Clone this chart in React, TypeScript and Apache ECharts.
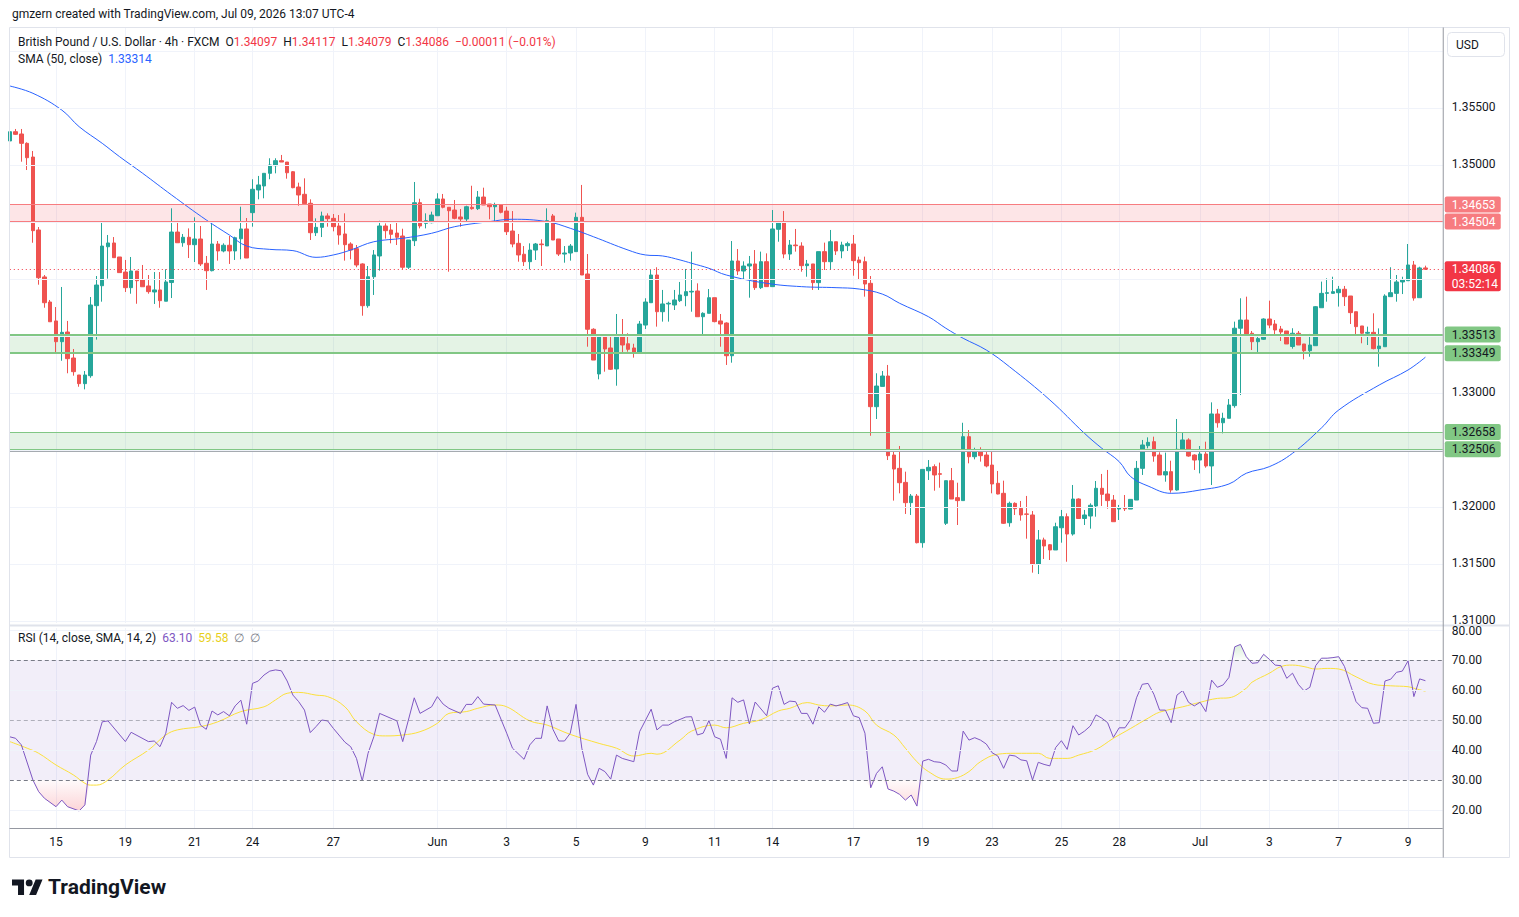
import React, { useEffect, useRef } from 'react';
import * as echarts from 'echarts';

// ---- instrument / header ----
const WATERMARK = 'gmzern created with TradingView.com, Jul 09, 2026 13:07 UTC-4';
const SYMBOL_TITLE = 'British Pound / U.S. Dollar · 4h · FXCM';
const SMA_TITLE = 'SMA (50, close)';
const RSI_TITLE = 'RSI (14, close, SMA, 14, 2)';
const COUNTDOWN = '03:52:14';

// ---- 4h bars, first bar Wed 2026-05-13 17:00 (UTC-4): [open, high, low, close] ----
const bars: [number, number, number, number][] = [
  [1.35211, 1.35313, 1.35152, 1.35292], [1.35292, 1.35316, 1.35263, 1.35269], [1.35272, 1.35316, 1.35029, 1.35190],
  [1.35190, 1.35199, 1.34956, 1.35064], [1.35070, 1.35123, 1.34318, 1.34424], [1.34430, 1.34456, 1.33950, 1.34011],
  [1.34018, 1.34035, 1.33748, 1.33792], [1.33798, 1.33816, 1.33625, 1.33625], [1.33632, 1.33754, 1.33354, 1.33450],
  [1.33450, 1.33930, 1.33283, 1.33532], [1.33535, 1.33632, 1.33173, 1.33301], [1.33307, 1.33386, 1.33152, 1.33187],
  [1.33158, 1.33158, 1.33055, 1.33082], [1.33082, 1.33193, 1.33032, 1.33158], [1.33152, 1.33842, 1.33134, 1.33772],
  [1.33766, 1.34026, 1.33468, 1.33947], [1.33941, 1.34494, 1.33801, 1.34289], [1.34283, 1.34386, 1.34003, 1.34316],
  [1.34316, 1.34368, 1.34187, 1.34187], [1.34193, 1.34193, 1.34056, 1.34056], [1.34061, 1.34167, 1.33886, 1.33924],
  [1.33924, 1.34193, 1.33871, 1.34070], [1.34070, 1.34070, 1.33783, 1.33985], [1.33991, 1.34123, 1.33932, 1.33932],
  [1.33939, 1.34035, 1.33871, 1.33889], [1.33886, 1.34061, 1.33781, 1.33904], [1.33904, 1.34061, 1.33748, 1.33810],
  [1.33805, 1.34085, 1.33805, 1.33974], [1.33969, 1.34620, 1.33833, 1.34412], [1.34412, 1.34509, 1.34318, 1.34318],
  [1.34318, 1.34395, 1.34283, 1.34366], [1.34366, 1.34444, 1.34184, 1.34301], [1.34301, 1.34541, 1.34149, 1.34351],
  [1.34351, 1.34465, 1.34114, 1.34132], [1.34138, 1.34202, 1.33904, 1.34073], [1.34073, 1.34491, 1.34067, 1.34307],
  [1.34307, 1.34333, 1.34161, 1.34246], [1.34246, 1.34313, 1.34234, 1.34296], [1.34296, 1.34377, 1.34132, 1.34246],
  [1.34246, 1.34371, 1.34167, 1.34362], [1.34353, 1.34634, 1.34173, 1.34439], [1.34439, 1.34535, 1.34184, 1.34184],
  [1.34582, 1.34875, 1.34459, 1.34787], [1.34781, 1.34904, 1.34699, 1.34825], [1.34816, 1.34927, 1.34708, 1.34927],
  [1.34927, 1.35059, 1.34875, 1.35000], [1.34994, 1.35059, 1.34927, 1.35038], [1.35038, 1.35088, 1.35026, 1.35026],
  [1.35026, 1.35026, 1.34880, 1.34932], [1.34941, 1.34947, 1.34796, 1.34801], [1.34807, 1.34845, 1.34643, 1.34737],
  [1.34743, 1.34883, 1.34661, 1.34661], [1.34664, 1.34699, 1.34342, 1.34406], [1.34406, 1.34532, 1.34377, 1.34453],
  [1.34453, 1.34591, 1.34368, 1.34553], [1.34553, 1.34576, 1.34459, 1.34529], [1.34532, 1.34570, 1.34418, 1.34459],
  [1.34465, 1.34561, 1.34301, 1.34386], [1.34395, 1.34576, 1.34161, 1.34301], [1.34307, 1.34322, 1.34173, 1.34254],
  [1.34266, 1.34298, 1.34103, 1.34123], [1.34132, 1.34138, 1.33678, 1.33766], [1.33766, 1.34114, 1.33748, 1.34020],
  [1.34020, 1.34254, 1.33860, 1.34211], [1.34202, 1.34511, 1.34073, 1.34465], [1.34465, 1.34488, 1.34354, 1.34424],
  [1.34430, 1.34482, 1.34313, 1.34392], [1.34403, 1.34503, 1.34298, 1.34366], [1.34377, 1.34441, 1.34085, 1.34103],
  [1.34103, 1.34342, 1.34088, 1.34342], [1.34336, 1.34851, 1.34289, 1.34669], [1.34669, 1.34704, 1.34444, 1.34465],
  [1.34488, 1.34576, 1.34444, 1.34511], [1.34494, 1.34591, 1.34488, 1.34561], [1.34555, 1.34752, 1.34555, 1.34702],
  [1.34702, 1.34746, 1.34620, 1.34629], [1.34629, 1.34629, 1.34064, 1.34599], [1.34605, 1.34693, 1.34524, 1.34532],
  [1.34544, 1.34614, 1.34459, 1.34526], [1.34526, 1.34643, 1.34503, 1.34634], [1.34629, 1.34818, 1.34608, 1.34617],
  [1.34617, 1.34772, 1.34605, 1.34719], [1.34719, 1.34801, 1.34649, 1.34649], [1.34658, 1.34658, 1.34524, 1.34634],
  [1.34634, 1.34669, 1.34503, 1.34649], [1.34649, 1.34655, 1.34576, 1.34585], [1.34596, 1.34634, 1.34386, 1.34415],
  [1.34421, 1.34596, 1.34278, 1.34307], [1.34313, 1.34395, 1.34152, 1.34211], [1.34217, 1.34289, 1.34114, 1.34152],
  [1.34152, 1.34313, 1.34085, 1.34254], [1.34254, 1.34316, 1.34167, 1.34307], [1.34307, 1.34348, 1.34114, 1.34301],
  [1.34290, 1.34620, 1.34290, 1.34512], [1.34553, 1.34570, 1.34342, 1.34342], [1.34351, 1.34351, 1.34202, 1.34219],
  [1.34219, 1.34289, 1.34143, 1.34228], [1.34228, 1.34307, 1.34161, 1.34289], [1.34240, 1.34582, 1.34240, 1.34541],
  [1.34541, 1.34825, 1.34035, 1.34035], [1.34044, 1.34219, 1.33406, 1.33559], [1.33559, 1.33568, 1.33289, 1.33289],
  [1.33167, 1.33494, 1.33120, 1.33494], [1.33494, 1.33503, 1.33187, 1.33386], [1.33395, 1.33494, 1.33202, 1.33208],
  [1.33211, 1.33693, 1.33064, 1.33503], [1.33503, 1.33649, 1.33348, 1.33421], [1.33432, 1.33524, 1.33362, 1.33383],
  [1.33395, 1.33432, 1.33310, 1.33354], [1.33354, 1.33632, 1.33354, 1.33605], [1.33596, 1.33831, 1.33561, 1.33798],
  [1.33792, 1.34079, 1.33792, 1.34035], [1.34035, 1.34103, 1.33582, 1.33713], [1.33713, 1.33904, 1.33626, 1.33781],
  [1.33781, 1.33801, 1.33626, 1.33787], [1.33772, 1.33904, 1.33728, 1.33816], [1.33810, 1.33974, 1.33798, 1.33860],
  [1.33854, 1.34088, 1.33761, 1.33889], [1.33886, 1.34240, 1.33713, 1.33892], [1.33895, 1.33962, 1.33669, 1.33669],
  [1.33669, 1.33708, 1.33503, 1.33699], [1.33699, 1.33912, 1.33699, 1.33836], [1.33836, 1.33836, 1.33620, 1.33626],
  [1.33632, 1.33693, 1.33406, 1.33605], [1.33614, 1.33620, 1.33246, 1.33327], [1.33327, 1.34333, 1.33266, 1.34158],
  [1.34158, 1.34263, 1.34035, 1.34070], [1.34070, 1.34155, 1.33991, 1.34114], [1.34114, 1.34202, 1.33836, 1.34132],
  [1.34132, 1.34254, 1.33904, 1.33924], [1.33924, 1.34240, 1.33912, 1.34152], [1.34152, 1.34225, 1.33933, 1.33933],
  [1.33933, 1.34605, 1.33933, 1.34439], [1.34436, 1.34509, 1.34327, 1.34503], [1.34503, 1.34596, 1.34182, 1.34219],
  [1.34219, 1.34342, 1.34167, 1.34298], [1.34298, 1.34439, 1.34240, 1.34292], [1.34289, 1.34322, 1.34064, 1.34117],
  [1.34117, 1.34167, 1.34020, 1.34132], [1.34132, 1.34132, 1.33904, 1.33968], [1.33968, 1.34240, 1.33904, 1.34240],
  [1.34240, 1.34319, 1.34079, 1.34152], [1.34152, 1.34430, 1.34079, 1.34327], [1.34327, 1.34327, 1.34211, 1.34246],
  [1.34246, 1.34327, 1.34182, 1.34298], [1.34292, 1.34327, 1.34246, 1.34310], [1.34307, 1.34386, 1.34029, 1.34161],
  [1.34167, 1.34196, 1.33991, 1.34143], [1.34152, 1.34196, 1.33845, 1.33956], [1.33962, 1.34026, 1.32625, 1.32880],
  [1.32880, 1.33173, 1.32772, 1.33061], [1.33058, 1.33193, 1.33058, 1.33149], [1.33149, 1.33246, 1.32412, 1.32450],
  [1.32456, 1.32500, 1.32056, 1.32333], [1.32339, 1.32535, 1.32120, 1.32213], [1.32216, 1.32310, 1.31939, 1.32038],
  [1.32038, 1.32114, 1.31930, 1.32096], [1.32096, 1.32114, 1.31681, 1.31687], [1.31687, 1.32330, 1.31643, 1.32330],
  [1.32318, 1.32412, 1.32237, 1.32348], [1.32354, 1.32374, 1.32143, 1.32281], [1.32292, 1.32389, 1.32169, 1.32287],
  [1.31857, 1.32231, 1.31842, 1.32231], [1.32231, 1.32342, 1.32070, 1.32070], [1.32082, 1.32213, 1.31842, 1.32056],
  [1.32056, 1.32739, 1.32056, 1.32617], [1.32617, 1.32675, 1.32383, 1.32441], [1.32441, 1.32520, 1.32418, 1.32485],
  [1.32485, 1.32524, 1.32398, 1.32450], [1.32456, 1.32500, 1.32348, 1.32360], [1.32368, 1.32500, 1.32120, 1.32202],
  [1.32208, 1.32316, 1.32111, 1.32114], [1.32120, 1.32231, 1.31851, 1.31857], [1.31862, 1.32047, 1.31827, 1.32032],
  [1.32032, 1.32041, 1.31930, 1.31985], [1.31988, 1.32053, 1.31880, 1.31930], [1.31939, 1.32097, 1.31722, 1.31936],
  [1.31930, 1.31965, 1.31424, 1.31500], [1.31500, 1.31798, 1.31412, 1.31711], [1.31711, 1.31731, 1.31544, 1.31658],
  [1.31669, 1.31675, 1.31535, 1.31623], [1.31623, 1.31862, 1.31623, 1.31827], [1.31818, 1.31974, 1.31687, 1.31915],
  [1.31915, 1.31944, 1.31520, 1.31763], [1.31763, 1.32193, 1.31749, 1.32070], [1.32070, 1.32076, 1.31899, 1.31899],
  [1.31899, 1.31974, 1.31842, 1.31930], [1.31921, 1.32032, 1.31810, 1.32015], [1.32009, 1.32228, 1.31915, 1.32164],
  [1.32164, 1.32290, 1.32009, 1.32111], [1.32114, 1.32325, 1.31985, 1.32056], [1.32061, 1.32105, 1.31871, 1.31871],
  [1.31982, 1.32018, 1.31886, 1.31994], [1.31994, 1.32105, 1.31965, 1.31985], [1.31982, 1.32067, 1.31982, 1.32067],
  [1.32061, 1.32404, 1.32061, 1.32339], [1.32339, 1.32588, 1.32281, 1.32544], [1.32538, 1.32611, 1.32515, 1.32567],
  [1.32573, 1.32617, 1.32397, 1.32447], [1.32456, 1.32480, 1.32281, 1.32281], [1.32281, 1.32477, 1.32222, 1.32310],
  [1.32310, 1.32406, 1.32126, 1.32149], [1.32149, 1.32772, 1.32143, 1.32506], [1.32506, 1.32655, 1.32506, 1.32588],
  [1.32588, 1.32603, 1.32441, 1.32447], [1.32456, 1.32462, 1.32325, 1.32412], [1.32412, 1.32535, 1.32295, 1.32465],
  [1.32465, 1.32573, 1.32345, 1.32360], [1.32360, 1.32918, 1.32193, 1.32816], [1.32816, 1.32860, 1.32696, 1.32739],
  [1.32739, 1.32827, 1.32646, 1.32778], [1.32778, 1.32947, 1.32778, 1.32895], [1.32889, 1.33626, 1.32871, 1.33568],
  [1.33568, 1.33831, 1.32982, 1.33640], [1.33640, 1.33845, 1.33494, 1.33518], [1.33524, 1.33544, 1.33377, 1.33450],
  [1.33450, 1.33494, 1.33348, 1.33477], [1.33471, 1.33655, 1.33465, 1.33649], [1.33649, 1.33810, 1.33568, 1.33596],
  [1.33605, 1.33640, 1.33494, 1.33553], [1.33561, 1.33588, 1.33456, 1.33535], [1.33544, 1.33544, 1.33430, 1.33430],
  [1.33408, 1.33568, 1.33389, 1.33524], [1.33524, 1.33544, 1.33421, 1.33421], [1.33430, 1.33430, 1.33295, 1.33371],
  [1.33371, 1.33518, 1.33318, 1.33421], [1.33415, 1.33763, 1.33415, 1.33757], [1.33748, 1.33977, 1.33748, 1.33874],
  [1.33874, 1.34006, 1.33801, 1.33880], [1.33874, 1.34020, 1.33874, 1.33889], [1.33880, 1.33939, 1.33758, 1.33910],
  [1.33910, 1.33939, 1.33763, 1.33845], [1.33851, 1.33851, 1.33605, 1.33705], [1.33713, 1.33713, 1.33494, 1.33582],
  [1.33588, 1.33588, 1.33436, 1.33524], [1.33524, 1.33582, 1.33421, 1.33532], [1.33532, 1.33699, 1.33383, 1.33389],
  [1.33389, 1.33567, 1.33231, 1.33412], [1.33406, 1.33866, 1.33406, 1.33851], [1.33845, 1.34103, 1.33845, 1.33880],
  [1.33874, 1.34035, 1.33801, 1.33974], [1.33974, 1.34020, 1.33868, 1.33991], [1.33985, 1.34307, 1.33985, 1.34123],
  [1.34123, 1.34158, 1.33810, 1.33833], [1.33836, 1.34108, 1.33836, 1.34097], [1.34097, 1.34117, 1.34079, 1.34086],
];

// SMA(50, close), sampled along the line: [bar index, value]
const smaPoints: [number, number][] = [
  [0, 1.35693], [4, 1.35629], [9, 1.35482], [12, 1.35336], [16, 1.35190], [19, 1.35073], [23, 1.34927],
  [28, 1.34737], [34, 1.34518], [38, 1.34386], [41, 1.34289], [45, 1.34260], [49, 1.34249], [53, 1.34190],
  [56, 1.34211], [59, 1.34254], [63, 1.34327], [68, 1.34357], [73, 1.34401], [77, 1.34459], [83, 1.34503],
  [87, 1.34524], [93, 1.34503], [97, 1.34445], [101, 1.34371], [107, 1.34254], [110, 1.34211], [113, 1.34202],
  [116, 1.34167], [118, 1.34138], [121, 1.34094], [124, 1.34035], [131, 1.33962], [137, 1.33933], [143, 1.33924],
  [147, 1.33912], [151, 1.33868], [154, 1.33787], [159, 1.33669], [162, 1.33568], [165, 1.33480], [169, 1.33377],
  [173, 1.33231], [180, 1.32939], [186, 1.32646], [189, 1.32515], [192, 1.32398], [194, 1.32266], [197, 1.32184],
  [201, 1.32120], [206, 1.32149], [211, 1.32202], [214, 1.32296], [218, 1.32354], [222, 1.32471], [227, 1.32693],
  [230, 1.32851], [237, 1.33070], [242, 1.33202], [245, 1.33314],
];

// RSI(14) vertices: [bar index, value]
const rsiPoints: [number, number][] = [
  [0, 44.4], [1, 43.9], [2, 41.7], [4, 30], [5, 26.1], [6, 23.9], [8, 21.1], [9, 23.3], [10, 21.1], [12, 19.7],
  [13, 21.7], [14, 38.3], [15, 42.8], [16, 49.4], [17, 49.7], [20, 42.8], [21, 45.9], [24, 42.8], [25, 43], [26, 41.1],
  [27, 45.6], [28, 55.9], [29, 53.9], [30, 54.8], [31, 53.2], [32, 54.3], [33, 48.3], [34, 46.9], [35, 53], [36, 51.7],
  [37, 52.8], [38, 51.4], [39, 54.7], [40, 56.6], [41, 48.6], [42, 62.2], [43, 63], [44, 65], [45, 66.3], [46, 66.7],
  [47, 66.4], [48, 63], [49, 58.3], [50, 56.1], [51, 53.3], [52, 45.8], [53, 47.8], [54, 50], [55, 49.7], [56, 47.2],
  [58, 42.6], [59, 41.1], [60, 37.2], [61, 29.7], [62, 38.9], [63, 44.4], [64, 52.2], [67, 49.7], [68, 42.8], [70, 57.4],
  [71, 52.2], [73, 54.4], [74, 57.8], [75, 55.3], [76, 53.9], [78, 52.2], [79, 55.2], [80, 55.2], [81, 57.8], [82, 55.3],
  [84, 55], [86, 45.6], [87, 40.6], [89, 36.9], [90, 41.7], [91, 43.9], [92, 43.9], [93, 54.7], [94, 46.9], [95, 43],
  [96, 43], [97, 45.6], [98, 55.2], [99, 40.6], [100, 31.9], [101, 28.3], [102, 33.9], [103, 32.8], [104, 30.3], [105, 38.3],
  [106, 37.2], [108, 36.1], [109, 46.1], [111, 53.6], [112, 46.7], [113, 48.3], [114, 48.3], [115, 49.4], [117, 51], [118, 51.1],
  [119, 45], [120, 45.6], [121, 49.8], [122, 44.4], [123, 43.6], [124, 37.2], [125, 57.4], [126, 55.9], [127, 56.7], [128, 48.7],
  [129, 56], [131, 51.4], [132, 60.6], [133, 61.4], [134, 55.2], [135, 56.3], [136, 56.1], [137, 52.2], [138, 52.2], [139, 48.6],
  [140, 54.4], [141, 52.6], [142, 55.3], [143, 54.7], [144, 55.2], [145, 55.8], [146, 51.4], [147, 50.8], [148, 45.6], [149, 27.4],
  [150, 32.2], [151, 34.4], [152, 27], [153, 26.3], [154, 25.2], [155, 23.3], [156, 25], [157, 21.3], [158, 36.3], [159, 36.9],
  [160, 36.1], [161, 35.9], [162, 35], [163, 33], [164, 33], [165, 46.3], [166, 43.3], [167, 44.1], [168, 43.3], [169, 42],
  [170, 39.1], [171, 38], [172, 33.9], [173, 38.3], [174, 38], [175, 36.7], [176, 36.4], [177, 30], [178, 35.9], [179, 35.2],
  [180, 34.7], [181, 40.8], [182, 43.1], [183, 40.2], [184, 48.1], [185, 45], [186, 46.3], [187, 48], [188, 51.7], [189, 50.6],
  [190, 49.1], [191, 44.2], [192, 47.4], [193, 47.4], [194, 50.2], [195, 57.4], [196, 61.9], [197, 62.2], [198, 58.6], [199, 53.3],
  [200, 53.3], [201, 49.1], [202, 58.3], [203, 59.8], [204, 55.9], [205, 54.7], [206, 55.9], [207, 52.8], [208, 63.3], [209, 60.9],
  [210, 61.7], [211, 64.2], [212, 74.4], [213, 75.2], [214, 71.1], [215, 68.9], [216, 69.1], [217, 71.9], [218, 70.2], [219, 68.3],
  [220, 68.1], [221, 63.9], [222, 65.6], [223, 61.9], [224, 59.7], [225, 60.9], [226, 68.1], [227, 70.6], [228, 70.6], [229, 70.8],
  [230, 71.1], [231, 67.8], [232, 61.9], [233, 56.1], [234, 54.1], [235, 53.9], [236, 48.9], [237, 49.1], [238, 63], [239, 63.6],
  [240, 65.9], [241, 66.3], [242, 69.7], [243, 57.8], [244, 63.7], [245, 63.1],
];

// RSI-based SMA(14), sampled along the line
const rsiMaPoints: [number, number][] = [
  [0, 42.8], [3, 40.6], [5, 38.9], [8, 35], [11, 31.7], [13, 28.9], [14, 28.3], [15, 28.3], [17, 30], [20, 35],
  [24, 40], [27, 45], [29, 46.7], [33, 47.8], [36, 49.4], [40, 52.8], [44, 54.4], [46, 56.7], [48, 58.9], [50, 59.2],
  [53, 58.3], [55, 57.8], [58, 54.4], [60, 49.4], [63, 45.2], [65, 44.7], [68, 45], [71, 46.1], [74, 48.9], [76, 52.2],
  [79, 52.8], [81, 53.9], [84, 55], [86, 54.4], [90, 49.7], [93, 48.3], [97, 45.2], [102, 42.2], [105, 40.6], [108, 38],
  [111, 38.9], [112, 38.6], [116, 43.3], [118, 46.3], [122, 48.3], [124, 47.4], [127, 48.9], [130, 50.1], [133, 53], [135, 53.9],
  [138, 55.8], [140, 55], [142, 54.7], [145, 55], [148, 53], [150, 48.3], [153, 45], [155, 40.6], [157, 36.1], [159, 32.8],
  [162, 30.3], [164, 30.8], [166, 32.8], [168, 36.1], [171, 38.6], [174, 38.9], [178, 38.9], [180, 37.2], [183, 37.2], [185, 38.3],
  [188, 40.2], [191, 43.9], [194, 47.2], [197, 50.6], [199, 52.6], [203, 54.4], [206, 55.9], [209, 57.2], [211, 57.4], [214, 60.6],
  [215, 62.6], [218, 65.6], [220, 67.8], [222, 68.3], [224, 67.8], [226, 67], [228, 67.2], [230, 67], [233, 64.4], [236, 61.9],
  [239, 61.4], [242, 61.1], [243, 60.6], [245, 59.58],
];

// ---- axis ticks / levels ----
const tickDates = [
  '2026-05-15', '2026-05-19', '2026-05-21', '2026-05-24', '2026-05-27', '2026-06-01', '2026-06-03', '2026-06-05',
  '2026-06-09', '2026-06-11', '2026-06-14', '2026-06-17', '2026-06-19', '2026-06-23', '2026-06-25', '2026-06-28',
  '2026-07-01', '2026-07-03', '2026-07-07', '2026-07-09',
];
const monthNames = ['Jan', 'Feb', 'Mar', 'Apr', 'May', 'Jun', 'Jul', 'Aug', 'Sep', 'Oct', 'Nov', 'Dec'];
const priceGridLevels = [1.31, 1.315, 1.32, 1.325, 1.33, 1.335, 1.34, 1.345, 1.35, 1.355, 1.36];
const priceAxisLabels = [1.31, 1.315, 1.32, 1.33, 1.35, 1.355];
const rsiGridLevels = [20, 40, 60, 80];
const rsiBandLevels = [30, 50, 70];
const rsiAxisLabels = [20, 30, 40, 50, 60, 70, 80];
const resistanceZone: [number, number] = [1.34504, 1.34653];
const supportZoneUpper: [number, number] = [1.33349, 1.33513];
const supportZoneLower: [number, number] = [1.32506, 1.32658];
const supportBaseLine = 1.32488;

// ---- styling ----
const FONT = 'Roboto, "Noto Sans", "Liberation Sans", sans-serif';
const TEXT = '#131722';
const UP = '#26a69a';
const DOWN = '#ef5350';
const RED_TAG = '#f23645';
const PINK_LINE = '#f77c80';
const GREEN_LINE = '#81c784';
const GRID = '#f0f3fa';
const BORDER = '#e0e3eb';
const AXIS_LINE = '#9598a1';
const RIGHT_PAD_BARS = 3;
const BAR_STEP = 5.778;
const PLOT_LEFT = 9.8;
const PRICE_MIN = 1.3098246;
const PRICE_MAX = 1.3620175;
const RSI_MIN = 14;
const RSI_MAX = 80.6667;
const LEVEL_PRECISION = 6;

const LOGO_PATH = 'M14 22H7V11H0V4h14v18zM28 22h-8l7.5-18h8L28 22zM24 8a4 4 0 1 1-8 0a4 4 0 0 1 8 0z';
echarts.graphic.registerShape('tvLogo', echarts.graphic.extendPath(LOGO_PATH, {}));

function pad2(n: number) {
  return n < 10 ? '0' + n : '' + n;
}

// FX session: Sunday 17:00 to Friday 17:00, 4h bars on 1/5/9/13/17/21
function buildBarTimes(count: number): string[] {
  const out: string[] = [];
  let t = Date.UTC(2026, 4, 13, 17);
  while (out.length < count) {
    const d = new Date(t);
    const dow = d.getUTCDay();
    const h = d.getUTCHours();
    const closed = dow === 6 || (dow === 5 && h >= 17) || (dow === 0 && h < 17);
    if (!closed) {
      out.push(`${d.getUTCFullYear()}-${pad2(d.getUTCMonth() + 1)}-${pad2(d.getUTCDate())} ${pad2(h)}:00`);
    }
    t += 4 * 3600 * 1000;
  }
  return out;
}

const barTimes = buildBarTimes(bars.length);
const categories = [...barTimes, ...Array.from({ length: RIGHT_PAD_BARS }, (_, i) => `pad-${i}`)];
const tickIndex = new Set<number>(
  tickDates.map((d) => categories.findIndex((c) => c.startsWith(d))).filter((i) => i >= 0)
);
function tickText(cat: string): string {
  const day = Number(cat.slice(8, 10));
  const month = Number(cat.slice(5, 7));
  return day === 1 ? monthNames[month - 1] : String(day);
}

const PLOT_W = BAR_STEP * (categories.length - 1);

function levelLines(items: any[]) {
  return {
    silent: true, symbol: ['none', 'none'], label: { show: false }, animation: false,
    precision: LEVEL_PRECISION, data: items,
  };
}

function buildOption(): any {
  const candleData = bars.map(([o, h, l, c]) => [o, c, l, h]);
  const lastClose = bars[bars.length - 1][3];

  const osBase = rsiPoints.map(([i, v]) => [i, Math.min(v, 30)]);
  const osFill = rsiPoints.map(([i, v]) => [i, 30 - Math.min(v, 30)]);
  const obBase = rsiPoints.map(([i]) => [i, 70]);
  const obFill = rsiPoints.map(([i, v]) => [i, Math.max(v, 70) - 70]);

  const splitLine = {
    show: true,
    interval: (idx: number) => tickIndex.has(idx),
    lineStyle: { color: GRID, width: 1 },
  };
  const hiddenLine = { width: 0, opacity: 0 };
  const solid = (color: string, width = 1) => ({ color, width, type: 'solid' });

  return {
    animation: false,
    backgroundColor: '#ffffff',
    textStyle: { fontFamily: FONT },
    grid: [
      { left: PLOT_LEFT, top: 28, width: PLOT_W, height: 595 },
      { left: PLOT_LEFT, top: 628, width: PLOT_W, height: 200 },
    ],
    xAxis: [
      {
        type: 'category', gridIndex: 0, data: categories, boundaryGap: false,
        axisLine: { show: false }, axisTick: { show: false }, axisLabel: { show: false }, splitLine,
      },
      {
        type: 'category', gridIndex: 1, data: categories, boundaryGap: false,
        axisLine: { show: false }, axisTick: { show: false },
        axisLabel: {
          show: true, interval: (idx: number) => tickIndex.has(idx),
          formatter: (v: string) => tickText(v), color: TEXT, fontSize: 12, margin: 8, fontFamily: FONT,
        },
        splitLine,
      },
    ],
    yAxis: [
      {
        type: 'value', gridIndex: 0, position: 'right', min: PRICE_MIN, max: PRICE_MAX,
        axisLine: { show: false }, axisTick: { show: false }, axisLabel: { show: false }, splitLine: { show: false },
      },
      {
        type: 'value', gridIndex: 1, position: 'right', min: RSI_MIN, max: RSI_MAX,
        axisLine: { show: false }, axisTick: { show: false }, axisLabel: { show: false }, splitLine: { show: false },
      },
    ],
    series: [
      // price pane grid lines
      {
        name: 'price-grid', type: 'line', xAxisIndex: 0, yAxisIndex: 0, data: [], z: 0, silent: true,
        markLine: levelLines(priceGridLevels.map((v) => ({ yAxis: v, lineStyle: solid(GRID) }))),
      },
      // support / resistance zones
      {
        name: 'zones', type: 'line', xAxisIndex: 0, yAxisIndex: 0, data: [], z: 1, silent: true,
        markArea: {
          silent: true, animation: false,
          data: [
            [{ yAxis: resistanceZone[0], itemStyle: { color: 'rgba(242, 54, 69, 0.13)' } }, { yAxis: resistanceZone[1] }],
            [{ yAxis: supportZoneUpper[0], itemStyle: { color: 'rgba(76, 175, 80, 0.15)' } }, { yAxis: supportZoneUpper[1] }],
            [{ yAxis: supportZoneLower[0], itemStyle: { color: 'rgba(76, 175, 80, 0.15)' } }, { yAxis: supportZoneLower[1] }],
          ],
        },
        markLine: levelLines([
          { yAxis: resistanceZone[0], lineStyle: solid(PINK_LINE) },
          { yAxis: resistanceZone[1], lineStyle: solid(PINK_LINE) },
          { yAxis: supportZoneUpper[0], lineStyle: solid(GREEN_LINE, 2) },
          { yAxis: supportZoneUpper[1], lineStyle: solid(GREEN_LINE, 2) },
          { yAxis: supportZoneLower[0], lineStyle: solid(GREEN_LINE) },
          { yAxis: supportZoneLower[1], lineStyle: solid(GREEN_LINE) },
          { yAxis: supportBaseLine, lineStyle: solid('#a5aab0') },
        ]),
      },
      {
        name: 'GBPUSD', type: 'candlestick', xAxisIndex: 0, yAxisIndex: 0, data: candleData, z: 2,
        barWidth: 4, silent: true,
        itemStyle: { color: UP, color0: DOWN, borderColor: UP, borderColor0: DOWN, borderWidth: 1 },
      },
      {
        name: 'SMA 50', type: 'line', xAxisIndex: 0, yAxisIndex: 0, data: smaPoints, z: 3,
        smooth: 0.4, showSymbol: false, silent: true,
        lineStyle: { color: '#2962ff', width: 1 },
      },
      // last price line
      {
        name: 'last', type: 'line', xAxisIndex: 0, yAxisIndex: 0, data: [], z: 4, silent: true,
        markLine: levelLines([{ yAxis: lastClose, lineStyle: { color: RED_TAG, width: 1, type: [1, 3] } }]),
      },
      // RSI pane
      {
        name: 'rsi-grid', type: 'line', xAxisIndex: 1, yAxisIndex: 1, data: [], z: 0, silent: true,
        markArea: {
          silent: true, animation: false,
          data: [[{ yAxis: 30, itemStyle: { color: 'rgba(126, 87, 194, 0.1)' } }, { yAxis: 70 }]],
        },
        markLine: levelLines([
          ...rsiGridLevels.map((v) => ({ yAxis: v, lineStyle: solid(GRID) })),
          ...rsiBandLevels.map((v) => ({
            yAxis: v,
            lineStyle: { color: v === 50 ? 'rgba(120, 123, 134, 0.55)' : '#787b86', width: 1, type: [4, 3] },
          })),
        ]),
      },
      {
        name: 'os-base', type: 'line', xAxisIndex: 1, yAxisIndex: 1, data: osBase, stack: 'os',
        showSymbol: false, silent: true, lineStyle: hiddenLine, z: 1,
      },
      {
        name: 'os-fill', type: 'line', xAxisIndex: 1, yAxisIndex: 1, data: osFill, stack: 'os',
        showSymbol: false, silent: true, lineStyle: hiddenLine, z: 1,
        areaStyle: {
          color: new echarts.graphic.LinearGradient(0, 0, 0, 1, [
            { offset: 0, color: 'rgba(242, 54, 69, 0.03)' },
            { offset: 1, color: 'rgba(242, 54, 69, 0.3)' },
          ]),
        },
      },
      {
        name: 'ob-base', type: 'line', xAxisIndex: 1, yAxisIndex: 1, data: obBase, stack: 'ob',
        showSymbol: false, silent: true, lineStyle: hiddenLine, z: 1,
      },
      {
        name: 'ob-fill', type: 'line', xAxisIndex: 1, yAxisIndex: 1, data: obFill, stack: 'ob',
        showSymbol: false, silent: true, lineStyle: hiddenLine, z: 1,
        areaStyle: {
          color: new echarts.graphic.LinearGradient(0, 0, 0, 1, [
            { offset: 0, color: 'rgba(76, 175, 80, 0.3)' },
            { offset: 1, color: 'rgba(76, 175, 80, 0.03)' },
          ]),
        },
      },
      {
        name: 'RSI MA', type: 'line', xAxisIndex: 1, yAxisIndex: 1, data: rsiMaPoints, z: 2,
        smooth: 0.4, showSymbol: false, silent: true, lineStyle: { color: '#fbe03b', width: 1 },
      },
      {
        name: 'RSI', type: 'line', xAxisIndex: 1, yAxisIndex: 1, data: rsiPoints, z: 3,
        showSymbol: false, silent: true, lineStyle: { color: '#7e57c2', width: 1 },
      },
    ],
  };
}

function buildOverlay(chart: any): any[] {
  const py = (v: number) => chart.convertToPixel({ yAxisIndex: 0 }, v) as number;
  const ry = (v: number) => chart.convertToPixel({ yAxisIndex: 1 }, v) as number;
  const plotRight = PLOT_LEFT + PLOT_W;
  const last = bars[bars.length - 1];
  const prev = bars[bars.length - 2];
  const change = last[3] - prev[3];
  const changePct = (change / prev[3]) * 100;
  const fmtSigned = (v: number, d: number) => (v < 0 ? '\u2212' : '+') + Math.abs(v).toFixed(d);
  const smaLast = smaPoints[smaPoints.length - 1][1];
  const rsiLast = rsiPoints[rsiPoints.length - 1][1];
  const rsiMaLast = rsiMaPoints[rsiMaPoints.length - 1][1];

  const els: any[] = [];
  const line = (x1: number, y1: number, x2: number, y2: number, stroke: string, w = 1) =>
    els.push({ type: 'line', silent: true, z: 50, shape: { x1, y1, x2, y2 }, style: { stroke, lineWidth: w } });

  // frame and pane separators
  line(9.5, 27.5, 1509.5, 27.5, BORDER);
  line(9.5, 27.5, 9.5, 857.5, BORDER);
  line(1509.5, 27.5, 1509.5, 857.5, BORDER);
  line(9.5, 857.5, 1509.5, 857.5, BORDER);
  line(9.5, 625.5, 1509.5, 625.5, BORDER, 2);
  line(plotRight + 0.5, 27.5, plotRight + 0.5, 857.5, AXIS_LINE);
  line(9.5, 828.5, plotRight, 828.5, AXIS_LINE);

  const axisText = (y: number, text: string) =>
    els.push({
      type: 'text', silent: true, z: 60, x: plotRight + 9, y,
      style: { text, fill: TEXT, font: `12px ${FONT}`, verticalAlign: 'middle', align: 'left' },
    });
  // price axis labels
  priceAxisLabels.forEach((v) => axisText(py(v) - 1, v.toFixed(5)));
  // RSI axis labels
  rsiAxisLabels.forEach((v) => axisText(ry(v) + (v === 80 ? 1 : 0), v.toFixed(2)));

  // level tags on the price axis
  const tag = (v: number, bg: string, fg: string) => {
    const y = py(v);
    els.push({ type: 'rect', silent: true, z: 70, shape: { x: plotRight + 2, y: y - 8, width: 56, height: 16, r: 2 }, style: { fill: bg } });
    els.push({
      type: 'text', silent: true, z: 71, x: plotRight + 9, y,
      style: { text: v.toFixed(5), fill: fg, font: `12px ${FONT}`, verticalAlign: 'middle', align: 'left' },
    });
  };
  tag(resistanceZone[1], PINK_LINE, '#ffffff');
  tag(resistanceZone[0], PINK_LINE, '#ffffff');
  tag(supportZoneUpper[1], GREEN_LINE, TEXT);
  tag(supportZoneUpper[0], GREEN_LINE, TEXT);
  tag(supportZoneLower[1], GREEN_LINE, TEXT);
  tag(supportZoneLower[0], GREEN_LINE, TEXT);

  // last price + countdown tag
  const ly = py(last[3]);
  els.push({ type: 'rect', silent: true, z: 72, shape: { x: plotRight + 2, y: ly - 8, width: 56, height: 30, r: 2 }, style: { fill: RED_TAG } });
  els.push({
    type: 'text', silent: true, z: 73, x: plotRight + 9, y: ly,
    style: { text: last[3].toFixed(5), fill: '#ffffff', font: `12px ${FONT}`, verticalAlign: 'middle', align: 'left' },
  });
  els.push({
    type: 'text', silent: true, z: 73, x: plotRight + 9, y: ly + 15,
    style: { text: COUNTDOWN, fill: '#ffffff', font: `12px ${FONT}`, verticalAlign: 'middle', align: 'left' },
  });

  // currency box
  els.push({ type: 'rect', silent: true, z: 60, shape: { x: 1447.5, y: 32.5, width: 57, height: 24, r: 4 }, style: { fill: '#ffffff', stroke: BORDER, lineWidth: 1 } });
  els.push({ type: 'text', silent: true, z: 61, x: 1456, y: 45, style: { text: 'USD', fill: TEXT, font: `12px ${FONT}`, verticalAlign: 'middle' } });

  // header / legends
  els.push({ type: 'text', silent: true, z: 60, x: 12, y: 14, style: { text: WATERMARK, fill: TEXT, font: `12px ${FONT}`, verticalAlign: 'middle' } });
  els.push({
    type: 'text', silent: true, z: 60, x: 18, y: 42,
    style: {
      text:
        `{t|${SYMBOL_TITLE}}  {k|O}{v|${last[0].toFixed(5)}}  {k|H}{v|${last[1].toFixed(5)}}  ` +
        `{k|L}{v|${last[2].toFixed(5)}}  {k|C}{v|${last[3].toFixed(5)}}  {v|${fmtSigned(change, 5)} (${fmtSigned(changePct, 2)}%)}`,
      font: `12px ${FONT}`, verticalAlign: 'middle',
      rich: {
        t: { fill: TEXT, font: `12px ${FONT}` },
        k: { fill: TEXT, font: `12px ${FONT}` },
        v: { fill: RED_TAG, font: `12px ${FONT}` },
      },
    },
  });
  els.push({
    type: 'text', silent: true, z: 60, x: 18, y: 59,
    style: {
      text: `{t|${SMA_TITLE}}  {b|${smaLast.toFixed(5)}}`, font: `12px ${FONT}`, verticalAlign: 'middle',
      rich: { t: { fill: TEXT, font: `12px ${FONT}` }, b: { fill: '#2962ff', font: `12px ${FONT}` } },
    },
  });
  els.push({
    type: 'text', silent: true, z: 60, x: 18, y: 638,
    style: {
      text: `{t|${RSI_TITLE}}  {p|${rsiLast.toFixed(2)}}  {y|${rsiMaLast.toFixed(2)}}  {g|\u2205}  {g|\u2205}`,
      font: `12px ${FONT}`, verticalAlign: 'middle',
      rich: {
        t: { fill: TEXT, font: `12px ${FONT}` },
        p: { fill: '#7e57c2', font: `12px ${FONT}` },
        y: { fill: '#e8cf1a', font: `12px ${FONT}` },
        g: { fill: '#787b86', font: `12px ${FONT}` },
      },
    },
  });

  // brand mark
  els.push({ type: 'tvLogo', silent: true, z: 60, x: 12, y: 876, scaleX: 0.86, scaleY: 0.86, style: { fill: TEXT } });
  els.push({
    type: 'text', silent: true, z: 60, x: 48, y: 887,
    style: { text: 'TradingView', fill: TEXT, font: `bold 21px ${FONT}`, verticalAlign: 'middle' },
  });

  return els;
}

export default function App() {
  const ref = useRef<HTMLDivElement>(null);
  useEffect(() => {
    if (!ref.current) return;
    const chart = echarts.init(ref.current, undefined, { renderer: 'svg' });
    chart.setOption(buildOption());
    chart.setOption({ graphic: buildOverlay(chart) });
    return () => chart.dispose();
  }, []);
  return (
    <div
      ref={ref}
      style={{ position: 'fixed', left: 0, top: 0, width: 1519, height: 917, background: '#ffffff' }}
    />
  );
}
